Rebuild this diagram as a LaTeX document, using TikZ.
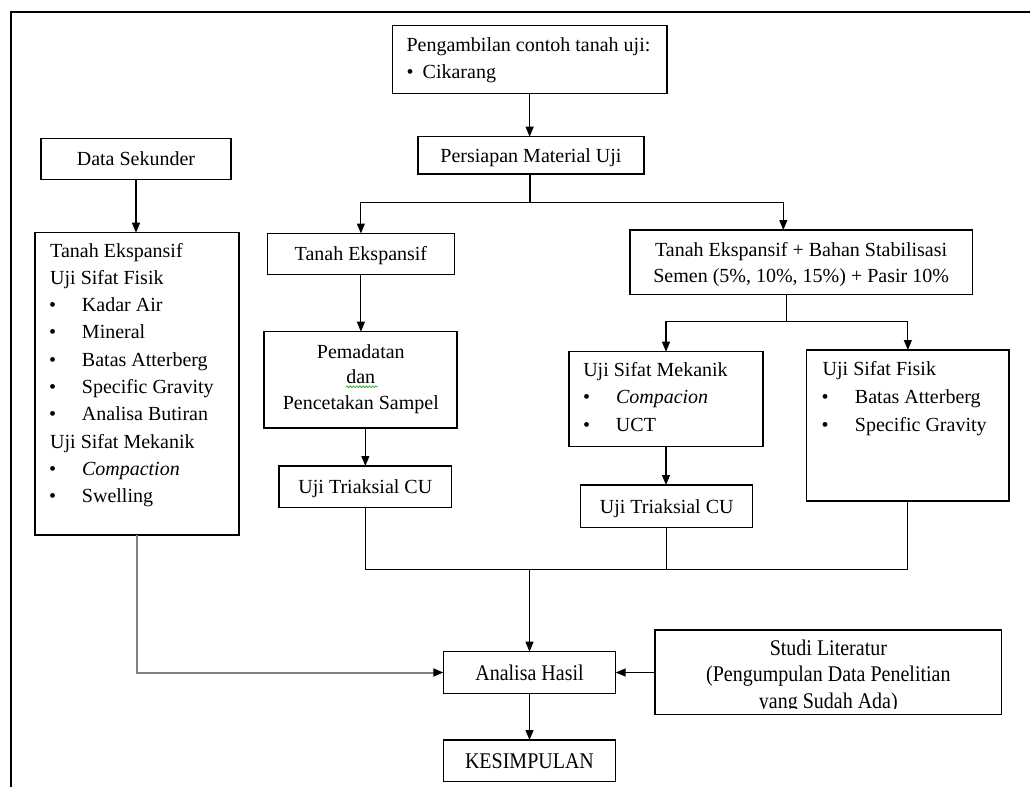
\documentclass[tikz,border=0pt]{standalone}
\usepackage{fontspec}
\setmainfont{Liberation Serif}
\usepackage{graphicx}
\usetikzlibrary{arrows.meta,decorations.pathmorphing}
\newcommand{\itm}[2][32.8pt]{\makebox[#1][l]{\textbullet}#2}
\newcommand{\rowsblock}[3]{{\renewcommand{\arraystretch}{#1}\begin{tabular}[t]{@{}#2@{}}#3\end{tabular}}}
\newcommand{\tall}[1]{\scalebox{1}[1.12]{#1}}
\tikzset{
  box/.style={draw, line width=1.2pt, inner sep=0pt, outer sep=0pt},
  one/.style={text height=13.4pt, text depth=0pt},
  tallone/.style={text height=15pt, text depth=0pt},
  txt/.style={inner sep=0pt, outer sep=0pt},
  conn/.style={line width=1.1pt},
  arr/.style={conn, -{Triangle[length=10pt,width=8pt]}},
  greyarr/.style={line width=2pt, draw=black!50, -{Triangle[length=10pt,width=8pt,color=black]}},
}
\begin{document}
\begin{tikzpicture}[x=1pt,y=-1pt,font=\fontsize{20}{24}\selectfont]
\useasboundingbox[fill=white] (0,0) rectangle (1030,787);
% frame
\draw[line width=2pt] (11,787) -- (11,12.3) -- (1030,12.3);

% boxes
\node[box, minimum width=274.7pt, minimum height=67.6pt] (peng) at (529.65,59.5) {};
\node[txt, anchor=base west] (pengtext) at (406.5,51) {\rowsblock{1.14}{l}{Pengambilan contoh tanah uji:\\ \itm[16.2pt]{Cikarang}}};

\node[box, one, minimum width=226pt, minimum height=37.3pt] (pers) at (531,155.35) {Persiapan Material Uji};
\node[box, one, minimum width=190pt, minimum height=41pt] (ds) at (136,158.8) {Data Sekunder};

\node[box, minimum width=204pt, minimum height=302.3pt] (lk) at (137,383.85) {};
\node[txt, anchor=base west] (lktext) at (49.2,257) {\rowsblock{1.1375}{l}{%
\hspace*{1pt}Tanah Ekspansif\\
\hspace*{1pt}Uji Sifat Fisik\\
\itm{Kadar Air}\\
\itm{Mineral}\\
\itm{Batas Atterberg}\\
\itm{Specific Gravity}\\
\itm{Analisa Butiran}\\
\hspace*{1pt}Uji Sifat Mekanik\\
\itm{\textit{Compaction}}\\
\itm{Swelling}}};

\node[box, one, minimum width=186.8pt, minimum height=40.8pt] (te) at (360.9,253.9) {Tanah Ekspansif};

\node[box, minimum width=342.3pt, minimum height=64.3pt] (tebs) at (801.15,262.15) {};
\node[txt, anchor=base] (tebstext) at (801.15,256.7) {\rowsblock{1.0833}{c}{Tanah Ekspansif + Bahan Stabilisasi\\ Semen (5\%, 10\%, 15\%) + Pasir 10\%}};

\node[box, minimum width=193pt, minimum height=96.3pt] (pem) at (360.5,379.85) {};
\node[txt, anchor=base] (pemtext) at (360.8,358.3) {\rowsblock{1.0625}{c}{Pemadatan\\ dan\\ Pencetakan Sampel}};
\draw[draw=green!60!black!80, line width=0.8pt, decorate, decoration={snake, amplitude=0.8pt, segment length=3.2pt}] (346,386.8) -- (377.5,386.8);

\node[box, one, minimum width=172.7pt, minimum height=41.7pt] (utl) at (365.35,486.85) {Uji Triaksial CU};

\node[box, minimum width=194pt, minimum height=95pt] (usm) at (666,399.2) {};
\node[txt, anchor=base west] (usmtext) at (583.2,376) {\rowsblock{1.16}{l}{\hspace*{0.1pt}Uji Sifat Mekanik\\ \itm{\textit{Compacion}}\\ \itm{UCT}}};

\node[box, one, minimum width=172pt, minimum height=42.7pt] (utr) at (666.7,506.35) {Uji Triaksial CU};

\node[box, minimum width=202.3pt, minimum height=151pt] (usf) at (907.85,425.5) {};
\node[txt, anchor=base west] (usftext) at (821.5,375) {\rowsblock{1.167}{l}{\hspace*{1.2pt}Uji Sifat Fisik\\ \itm[33.5pt]{Batas Atterberg}\\ \itm[33.5pt]{Specific Gravity}}};

\node[box, tallone, minimum width=172.4pt, minimum height=41.6pt] (ah) at (529.5,672.5) {\tall{Analisa Hasil}};
\node[box, tallone, minimum width=172.4pt, minimum height=41.7pt] (kes) at (529.5,760.85) {\tall{KESIMPULAN}};

\node[box, minimum width=346.7pt, minimum height=84.3pt] (studi) at (828.35,672.15) {};
\begin{scope}
\clip (656,631) rectangle (1000.7,708.2);
\node[txt, anchor=base] (studitext) at (828.35,655) {\rowsblock{1.104}{c}{\tall{Studi Literatur}\\ \tall{(Pengumpulan Data Penelitian}\\ \tall{yang Sudah Ada)}}};
\end{scope}

% connectors
\draw[arr] (peng.south) -- (peng.south |- pers.north);
\coordinate (j1) at (530,202.7);
\draw[conn] (j1 |- pers.south) -- (j1);
\draw[arr] (j1) -| (te.north);
\coordinate (tebsin) at (783.3,230);
\draw[arr] (j1) -| (tebsin);
\coordinate (tebsout) at (786.7,294.3);
\coordinate (j2) at (786.7,321.7);
\draw[conn] (tebsout) -- (j2);
\draw[arr] (j2) -| (usm.north);
\draw[arr] (j2) -| (usf.north);
\draw[arr] (ds.south) -- (ds.south |- lk.north);
\draw[arr] (te.south) -- (te.south |- pem.north);
\draw[arr] (utl.north |- pem.south) -- (utl.north);
\draw[arr] (usm.south) -- (usm.south |- utr.north);
\coordinate (j3) at (529.5,569.3);
\draw[conn] (utl.south) -- (utl.south |- j3) -- (usf.south |- j3) -- (usf.south);
\draw[conn] (utr.south) -- (utr.south |- j3);
\draw[arr] (j3) -- (ah.north);
\draw[greyarr] (lk.south) |- (ah.west);
\draw[arr] (studi.west |- ah.east) -- (ah.east);
\draw[arr] (ah.south) -- (kes.north);
\end{tikzpicture}
\end{document}
